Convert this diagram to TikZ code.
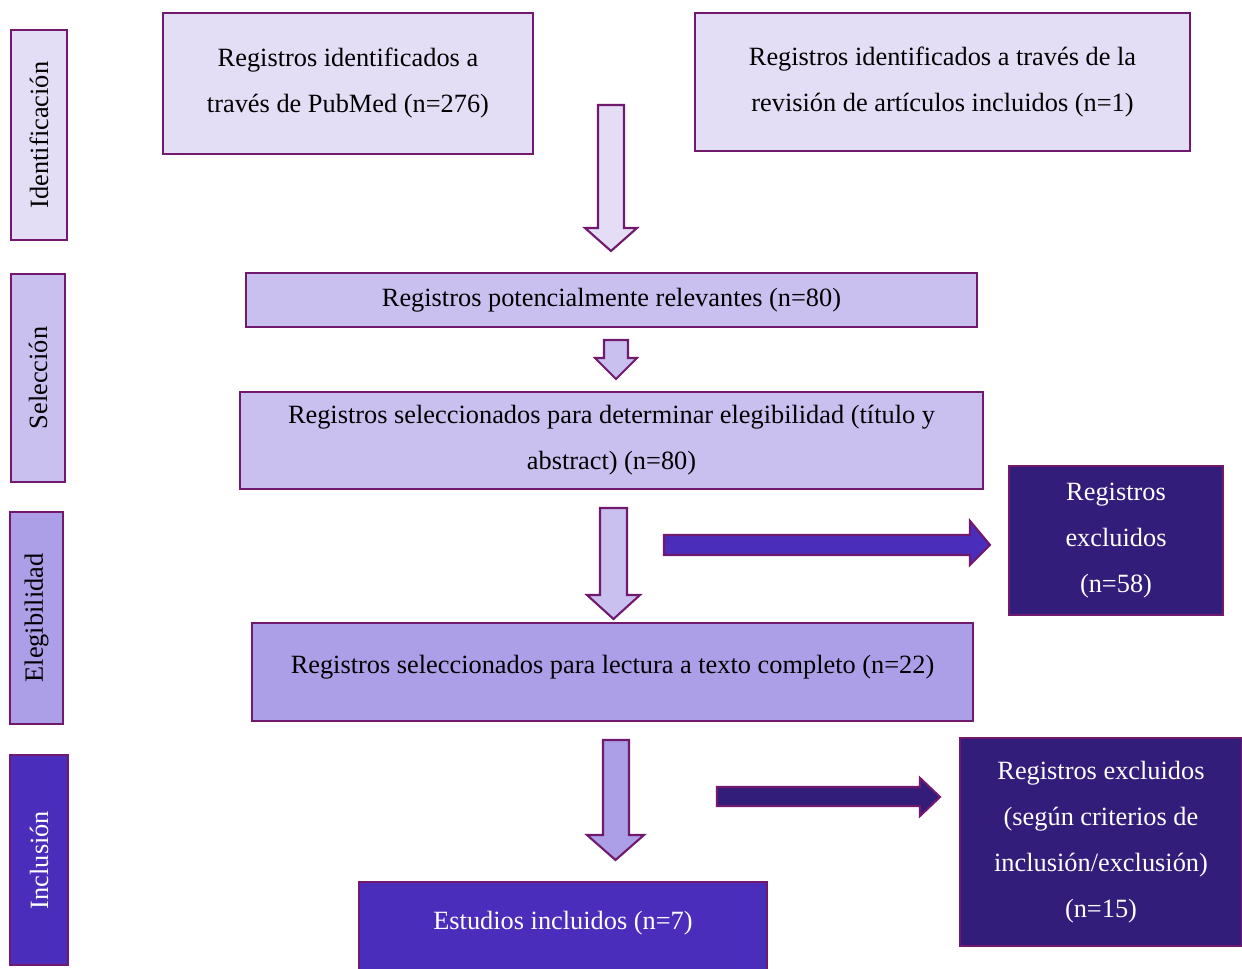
\documentclass[tikz,border=0pt]{standalone}
\usepackage{fontspec}
\setmainfont{Liberation Serif}
\usetikzlibrary{shapes.geometric, arrows}
\newcommand{\pxu}{0.02cm}
\definecolor{frame}{HTML}{70196F}
\definecolor{lavlight}{HTML}{E3DEF6}
\definecolor{lavmid}{HTML}{C9C0F0}
\definecolor{lavelig}{HTML}{AC9FE7}
\definecolor{violinc}{HTML}{4A2DBB}
\definecolor{violdark}{HTML}{321D7B}
\tikzstyle{box} = [rectangle, draw=frame, line width=1.2pt, inner sep=0pt, text centered, align=center, font=\fontsize{15}{26.2}\selectfont]
\tikzstyle{sidebox} = [box, rotate=90]
\tikzstyle{fatarrow} = [draw=frame, line width=1.2pt, line join=miter]

\begin{document}
\begin{tikzpicture}[x=\pxu, y=-\pxu]
    \useasboundingbox (0,0) rectangle (1242,969);

    % Stage labels
    \node (ident) [sidebox, fill=lavlight, minimum width=210*\pxu, minimum height=56*\pxu] at (39,135) {Identificación};
    \node (selec) [sidebox, fill=lavmid, minimum width=208*\pxu, minimum height=54*\pxu] at (38,378) {Selección};
    \node (elegib) [sidebox, fill=lavelig, minimum width=212*\pxu, minimum height=53*\pxu] at (36.5,618) {Elegibilidad};
    \node (inclu) [sidebox, fill=violinc, text=white, minimum width=210*\pxu, minimum height=58*\pxu] at (39,860) {Inclusión};

    % Boxes
    \node (pubmed) [box, fill=lavlight, minimum width=370*\pxu, minimum height=141*\pxu] at (348,83.5) {Registros identificados a\\través de PubMed (n=276)};
    \node (revision) [box, fill=lavlight, minimum width=495*\pxu, minimum height=138*\pxu] at (942.5,82) {Registros identificados a través de la\\revisión de artículos incluidos (n=1)};
    \node (potenciales) [box, fill=lavmid, minimum width=731*\pxu, minimum height=54*\pxu] at (611.5,300) {Registros potencialmente relevantes (n=80)};
    \node (seleccionados) [box, fill=lavmid, minimum width=743*\pxu, minimum height=97*\pxu] at (611.5,440.5) {Registros seleccionados para determinar elegibilidad (título y\\abstract) (n=80)};
    \node (excluidosA) [box, fill=violdark, text=white, minimum width=214*\pxu, minimum height=149*\pxu] at (1116,540.5) {Registros\\excluidos\\(n=58)};
    \node (lectura) [box, fill=lavelig, minimum width=721*\pxu, minimum height=98*\pxu, text height=8pt, text depth=5.8pt] at (612.5,672) {Registros seleccionados para lectura a texto completo (n=22)};
    \node (excluidosB) [box, fill=violdark, text=white, minimum width=282*\pxu, minimum height=208*\pxu] at (1101,842) {Registros excluidos\\(según criterios de\\inclusión/exclusión)\\(n=15)};
    \node (incluidos) [box, fill=violinc, text=white, minimum width=408*\pxu, minimum height=94*\pxu, text height=6pt, text depth=6pt] at (563,929) {Estudios incluidos (n=7)};

    % Block arrows
    \draw [fatarrow, fill=lavlight] (598,105) -- (624,105) -- (624,228) -- (637,228) -- (611,251) -- (585,228) -- (598,228) -- cycle;
    \draw [fatarrow, fill=lavmid] (604,340) -- (628,340) -- (628,358) -- (637,358) -- (616,379) -- (595,358) -- (604,358) -- cycle;
    \draw [fatarrow, fill=lavmid] (600,508) -- (627,508) -- (627,595) -- (640,595) -- (613.5,619) -- (587,595) -- (600,595) -- cycle;
    \draw [fatarrow, fill=lavelig] (603,740) -- (629,740) -- (629,835) -- (644,835) -- (615.5,860) -- (587,835) -- (603,835) -- cycle;
    \draw [fatarrow, fill=violinc] (664,535) -- (970,535) -- (970,521) -- (990,545) -- (970,565) -- (970,555) -- (664,555) -- cycle;
    \draw [fatarrow, fill=violdark] (717,787) -- (920,787) -- (920,778) -- (940,797) -- (920,816) -- (920,806) -- (717,806) -- cycle;
\end{tikzpicture}
\end{document}
